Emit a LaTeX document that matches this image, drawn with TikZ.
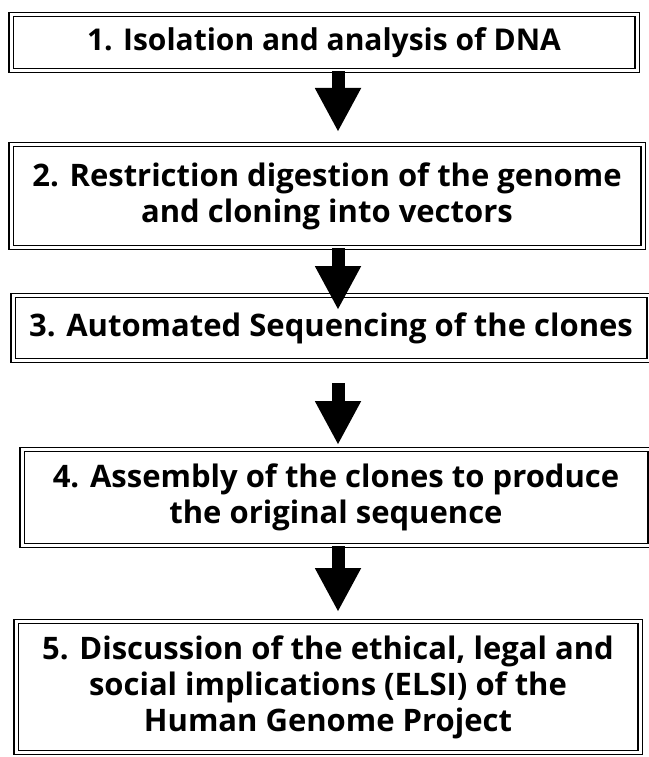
\documentclass[tikz,border=0pt]{standalone}
\usepackage{fontspec}
\setmainfont{Open Sans}
\usetikzlibrary{arrows.meta}
\begin{document}
\begin{tikzpicture}[x=1pt,y=-1pt,
  stepbox/.style={draw=black, line width=1.2pt, double, double distance=3pt,
    inner sep=0pt, align=center, font=\fontsize{31}{36}\selectfont\bfseries},
  bigarrow/.style={line width=13pt, -{Triangle[width=43pt,length=44pt]}, draw=black}]
\useasboundingbox (0,0) rectangle (648,757);
\node[stepbox, minimum width=626pt, minimum height=56pt,
  font=\fontsize{30}{36}\selectfont\bfseries] (b1) at (324,42.5)
  {1. Isolation and analysis of DNA};
\node[stepbox, minimum width=632pt, minimum height=103pt] (b2) at (327,196)
  {2. Restriction digestion of the genome\\and cloning into vectors};
\node[stepbox, minimum width=636pt, minimum height=65pt] (b3) at (331,328)
  {3. Automated Sequencing of the clones};
\node[stepbox, minimum width=628pt, minimum height=96pt] (b4) at (336,497.5)
  {4. Assembly of the clones to produce\\the original sequence};
\node[stepbox, minimum width=624pt, minimum height=131pt] (b5) at (328,687)
  {5. Discussion of the ethical, legal and\\social implications (ELSI) of the\\Human Genome Project};
\coordinate (t1) at (338,132);
\coordinate (t2) at (338,310);
\coordinate (s3) at (338,383);
\coordinate (t3) at (338,445);
\coordinate (t4) at (338,612);
\draw[bigarrow] (b1.south -| t1) -- (t1);
\draw[bigarrow] (b2.south -| t2) -- (t2);
\draw[bigarrow] (s3) -- (t3);
\draw[bigarrow] (b4.south -| t4) -- (t4);
\end{tikzpicture}
\end{document}
